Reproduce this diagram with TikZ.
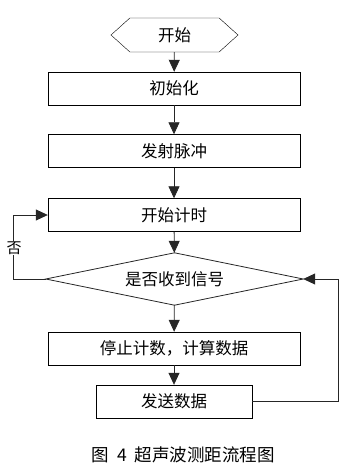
\documentclass[tikz,border=0pt]{standalone}
\usepackage{fontspec}
\newfontfamily\cjkfont{Noto Sans CJK SC}
\usetikzlibrary{arrows.meta,shapes.symbols}
\tikzset{
  flowbox/.style={draw,rectangle,minimum width=252pt,minimum height=33pt,inner sep=0pt,font=\cjkfont\fontsize{16.5}{16.5}\selectfont},
  flowline/.style={draw=black!85,line width=0.8pt},
  flowarrow/.style={flowline,-{Triangle[width=11pt,length=12pt]}}
}

\begin{document}
\begin{tikzpicture}[x=1pt,y=-1pt]
    \useasboundingbox (0,0) rectangle (356,470);
    \node (start) [flowbox,signal,signal to=west and east,signal pointer angle=84,minimum width=127pt,minimum height=34pt] at (174.5,35) {开始};
    \node (init) [flowbox] at (174,88.5) {初始化};
    \node (pulse) [flowbox] at (174,151) {发射脉冲};
    \node (timer) [flowbox] at (174,215) {开始计时};
    \node (check) [flowbox,draw=none,minimum width=257pt,minimum height=52pt] at (174.5,279) {是否收到信号};
    \draw [flowline] (check.west) -- (check.north) -- (check.east) -- (check.south) -- cycle;
    \node (calc) [flowbox] at (174,348.5) {停止计数，计算数据};
    \node (send) [flowbox,minimum width=156pt] at (174,401.5) {发送数据};
    \node (caption) [font=\cjkfont\fontsize{17.5}{17.5}\selectfont] at (183,455) {图\hspace{9pt}4\hspace{7pt}超声波测距流程图};
    \draw [flowarrow] (start) to (init);
    \draw [flowarrow] (init) to (pulse);
    \draw [flowarrow] (pulse) to (timer);
    \draw [flowarrow] (timer) to (check);
    \draw [flowarrow] (check) to (calc);
    \draw [flowarrow] (calc) to (send);
    \draw [flowarrow] (check.west) -- ++(-32,0) |- (timer.west);
    \node (no) [fill=white,inner sep=1pt,font=\cjkfont\fontsize{15}{15}\selectfont] at (14,248) {否};
    \draw [flowarrow] (send.east) -- ++(86,0) |- (check.east);
\end{tikzpicture}
\end{document}
